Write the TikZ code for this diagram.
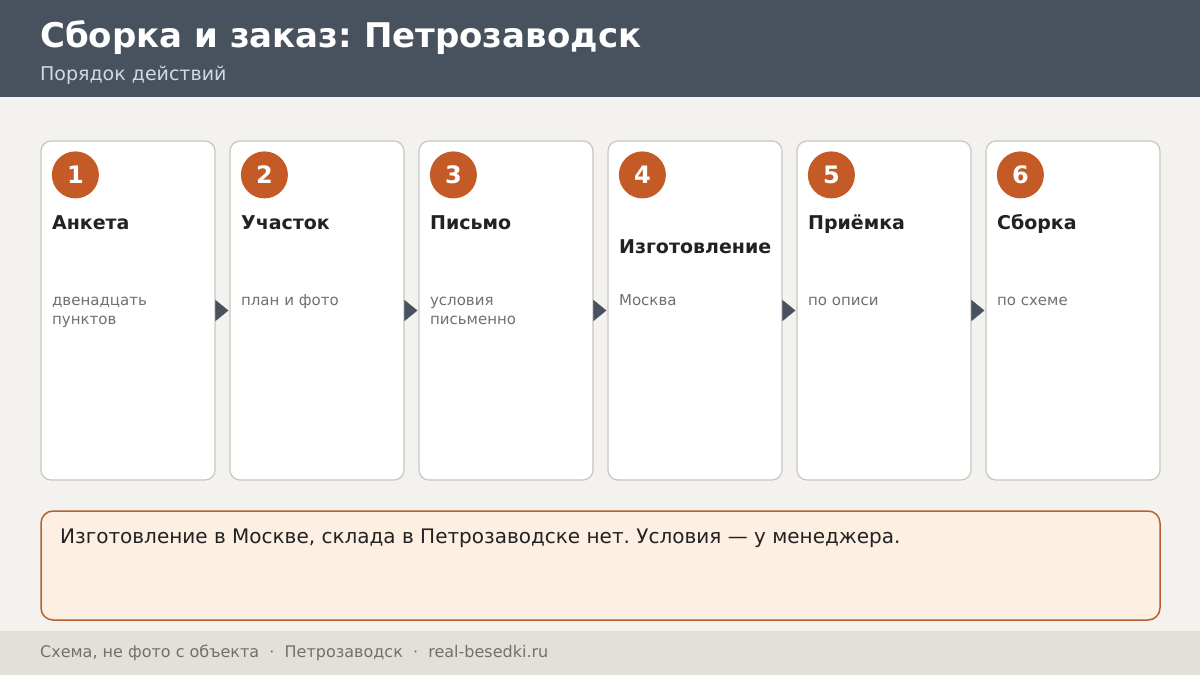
\documentclass[tikz,border=0pt]{standalone}
\usepackage{fontspec}
\setmainfont{DejaVu Sans}
\usetikzlibrary{positioning,calc,arrows.meta}
\frenchspacing

\definecolor{slate}{HTML}{48515E}
\definecolor{paper}{HTML}{F3F2EE}
\definecolor{band}{HTML}{E3E0DA}
\definecolor{cardline}{HTML}{C9C6BF}
\definecolor{rust}{HTML}{C45B27}
\definecolor{ink}{HTML}{222222}
\definecolor{muted}{HTML}{707070}
\definecolor{subtle}{HTML}{D3D9E1}
\definecolor{notefill}{HTML}{FDEFE1}
\definecolor{noteline}{HTML}{B5622E}

\tikzset{
  card/.style={draw=cardline,line width=1.2pt,fill=white,rounded corners=10pt,
    minimum width=174pt,minimum height=339pt,inner sep=0pt},
  num/.style={circle,fill=rust,minimum size=47pt,inner sep=0pt,text=white,
    font=\fontsize{24}{24}\selectfont\bfseries},
  ttl/.style={anchor=base west,inner sep=0pt,text=ink,
    font=\fontsize{19}{22}\selectfont\bfseries},
  desc/.style={anchor=north west,inner sep=0pt,text=muted,align=left,
    font=\fontsize{15}{19}\selectfont},
  flow/.style={-{Triangle[length=13pt,width=21pt]},draw=slate,fill=slate,
    shorten >=1pt}
}

\begin{document}
\begin{tikzpicture}[x=1pt,y=-1pt,node distance=189pt,on grid]
% background, header and footer
\fill[paper] (0,0) rectangle (1200,675);
\fill[slate] (0,0) rectangle (1200,97);
\fill[band] (0,631) rectangle (1200,675);
\node[anchor=base west,inner sep=0pt,text=white,font=\fontsize{34}{36}\selectfont\bfseries]
  (title) at (40,47) {Сборка и заказ: Петрозаводск};
\node[anchor=base west,inner sep=0pt,text=subtle,font=\fontsize{19}{22}\selectfont]
  (subtitle) at (40,80.5) {Порядок действий};

% steps
\node[card] (c1) at (128,310.5) {};
\node[card] (c2) [right=of c1] {};
\node[card] (c3) [right=of c2] {};
\node[card] (c4) [right=of c3] {};
\node[card] (c5) [right=of c4] {};
\node[card] (c6) [right=of c5] {};

\node[num] (n1) at ($(c1.north west)+(35,34.5)$) {1};
\node[num] (n2) at ($(c2.north west)+(35,34.5)$) {2};
\node[num] (n3) at ($(c3.north west)+(35,34.5)$) {3};
\node[num] (n4) at ($(c4.north west)+(35,34.5)$) {4};
\node[num] (n5) at ($(c5.north west)+(35,34.5)$) {5};
\node[num] (n6) at ($(c6.north west)+(35,34.5)$) {6};

\node[ttl] (t1) at ($(c1.north west)+(11.5,89.5)$) {Анкета};
\node[ttl] (t2) at ($(c2.north west)+(11.5,89.5)$) {Участок};
\node[ttl] (t3) at ($(c3.north west)+(11.5,89.5)$) {Письмо};
\node[ttl] (t4) at ($(c4.north west)+(11.5,113.5)$) {Изготовление};
\node[ttl] (t5) at ($(c5.north west)+(11.5,89.5)$) {Приёмка};
\node[ttl] (t6) at ($(c6.north west)+(11.5,89.5)$) {Сборка};

% first baseline 164.5 below the card top (strut height 13.3)
\node[desc] (d1) at ($(c1.north west)+(11.5,151.2)$) {\strut двенадцать\\пунктов};
\node[desc] (d2) at ($(c2.north west)+(11.5,151.2)$) {\strut план и фото};
\node[desc] (d3) at ($(c3.north west)+(11.5,151.2)$) {\strut условия\\письменно};
\node[desc] (d4) at ($(c4.north west)+(11.5,151.2)$) {\strut Москва};
\node[desc] (d5) at ($(c5.north west)+(11.5,151.2)$) {\strut по описи};
\node[desc] (d6) at ($(c6.north west)+(11.5,151.2)$) {\strut по схеме};

\path
(c1.east) edge[flow] (c2.west)
(c2.east) edge[flow] (c3.west)
(c3.east) edge[flow] (c4.west)
(c4.east) edge[flow] (c5.west)
(c5.east) edge[flow] (c6.west);

% note
\node[draw=noteline,line width=1.5pt,fill=notefill,rounded corners=12pt,
  minimum width=1119pt,minimum height=109pt,inner sep=0pt] (note) at (600.5,565.5) {};
\node[anchor=base west,inner sep=0pt,text=ink,font=\fontsize{20}{24}\selectfont]
  (notetext) at (60,543) {Изготовление в Москве, склада в Петрозаводске нет. Условия — у менеджера.};

\node[anchor=base west,inner sep=0pt,text=muted,font=\fontsize{16}{18}\selectfont]
  (footer) at (40,657) {Схема, не фото с объекта \ · \ Петрозаводск \ · \ real-besedki.ru};
\end{tikzpicture}
\end{document}
